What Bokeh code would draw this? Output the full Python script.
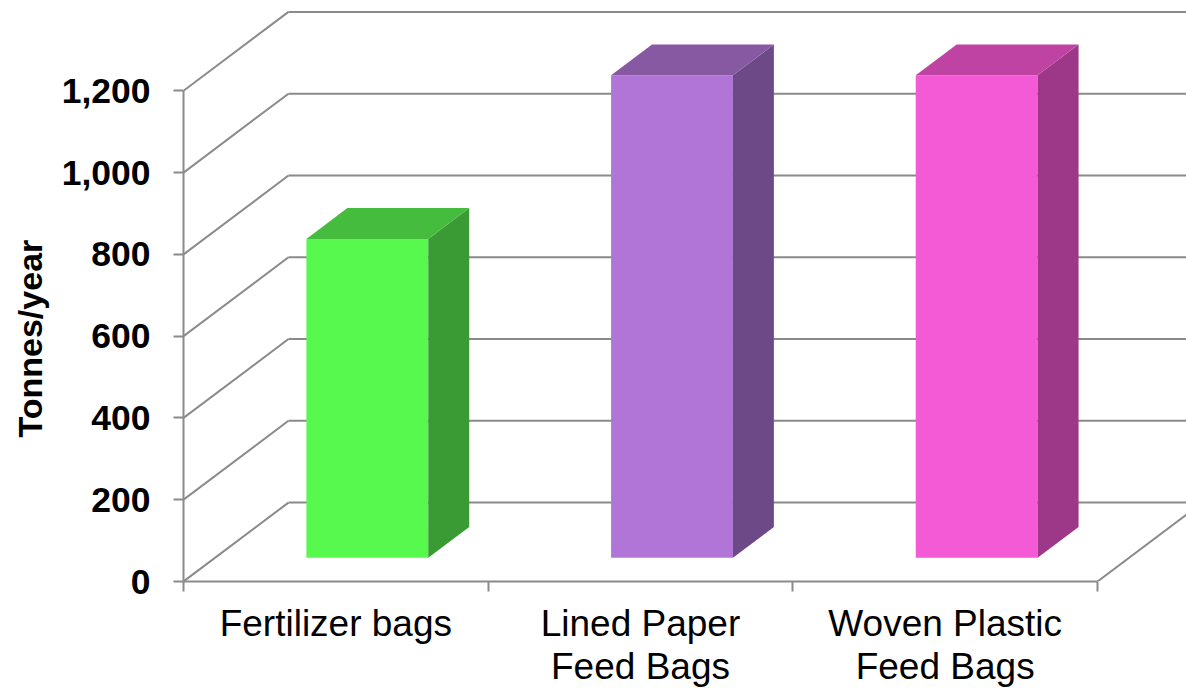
from bokeh.plotting import figure
from bokeh.models import Range1d, FixedTicker, NumeralTickFormatter, Title
from bokeh.embed import file_html
from bokeh.resources import INLINE

# ---- data ----
categories = ["Fertilizer bags", "Lined Paper\nFeed Bags", "Woven Plastic\nFeed Bags"]
values = [780, 1180, 1180]
y_ticks = [0, 200, 400, 600, 800, 1000, 1200]
y_title = "Tonnes/year"
front_colors = ["#58F94F", "#B075D6", "#F55AD6"]
side_colors = ["#3A9B34", "#6D4A87", "#9C3887"]
top_colors = ["#46BC3F", "#8659A2", "#BE43A3"]

# ---- 3D projection constants (data units) ----
DX = 0.3446      # depth shift along x
DY = 193.0       # depth shift along y
D0, D1 = 0.30, 0.69  # bar depth start/end as fraction of wall depth
HALF = 0.2       # half bar width
GRID = "#8A8A8A"
FONT = "Liberation Sans"

W, H = 1186, 689
LEFT, BOTTOM = 183, 107
PX_X, PX_Y = 304.67, 0.4096   # pixels per data unit
p = figure(width=W, height=H, output_backend="svg", toolbar_location=None,
           x_range=Range1d(0, (W - LEFT) / PX_X), y_range=Range1d(0, (H - BOTTOM) / PX_Y),
           min_border_left=LEFT, min_border_right=0, min_border_top=0, min_border_bottom=BOTTOM)
p.outline_line_color = None
p.xgrid.visible = False
p.ygrid.visible = False

n = len(categories)
ymax = y_ticks[-1]

# walls: left-wall diagonals and back-wall horizontals
p.segment(x0=[0] * len(y_ticks), y0=y_ticks, x1=[DX] * len(y_ticks),
          y1=[t + DY for t in y_ticks], line_color=GRID, line_width=2)
p.segment(x0=[DX] * len(y_ticks), y0=[t + DY for t in y_ticks],
          x1=[n + DX] * len(y_ticks), y1=[t + DY for t in y_ticks],
          line_color=GRID, line_width=2)
# floor right edge
p.segment(x0=[n], y0=[0], x1=[n + DX], y1=[DY], line_color=GRID, line_width=2)

# bars
fx, fy, sx, sy, tx, ty = [], [], [], [], [], []
ox, oy = (D1 - D0) * DX, (D1 - D0) * DY
for i, v in enumerate(values):
    x0 = i + 0.5 - HALF + D0 * DX
    x1 = x0 + 2 * HALF
    y0 = D0 * DY
    y1 = y0 + v
    fx.append([x0, x1, x1, x0]); fy.append([y0, y0, y1, y1])
    sx.append([x1, x1 + ox, x1 + ox, x1]); sy.append([y0, y0 + oy, y1 + oy, y1])
    tx.append([x0, x1, x1 + ox, x0 + ox]); ty.append([y1, y1, y1 + oy, y1 + oy])

p.patches(xs=fx, ys=fy, fill_color=front_colors, line_color=None)
p.patches(xs=sx, ys=sy, fill_color=side_colors, line_color=None)
p.patches(xs=tx, ys=ty, fill_color=top_colors, line_color=None)

# y axis
ya = p.yaxis[0]
ya.ticker = FixedTicker(ticks=y_ticks, minor_ticks=[])
ya.formatter = NumeralTickFormatter(format="0,0")
ya.bounds = (0, ymax)
ya.axis_line_color = GRID
ya.axis_line_width = 2
ya.major_tick_line_color = GRID
ya.major_tick_line_width = 2
ya.major_tick_out = 10
ya.major_tick_in = 0
ya.minor_tick_line_color = None
ya.major_label_standoff = 23
ya.major_label_text_font = FONT
ya.major_label_text_font_style = "bold"
ya.major_label_text_font_size = "35.5px"
ya.major_label_text_color = "black"

# y title on the left, starting near the bottom of the axis span
p.add_layout(Title(text=y_title, align="left", offset=144, vertical_align="middle",
                   text_font=FONT, text_font_style="bold", text_font_size="34px",
                   text_color="black", standoff=17), "left")

# x axis
centers = [i + 0.5 for i in range(n)]
xa = p.xaxis[0]
xa.ticker = FixedTicker(ticks=centers, minor_ticks=list(range(n + 1)))
xa.major_label_overrides = {c: lab for c, lab in zip(centers, categories)}
xa.bounds = (0, n)
xa.axis_line_color = GRID
xa.axis_line_width = 2
xa.major_tick_line_color = None
xa.major_tick_out = 0
xa.major_tick_in = 0
xa.minor_tick_line_color = GRID
xa.minor_tick_line_width = 2
xa.minor_tick_out = 10
xa.minor_tick_in = 0
xa.major_label_standoff = 11
xa.major_label_text_font = FONT
xa.major_label_text_font_size = "37px"
xa.major_label_text_line_height = 1.06
xa.major_label_text_color = "black"

open("out.html", "w").write(file_html(p, INLINE))
